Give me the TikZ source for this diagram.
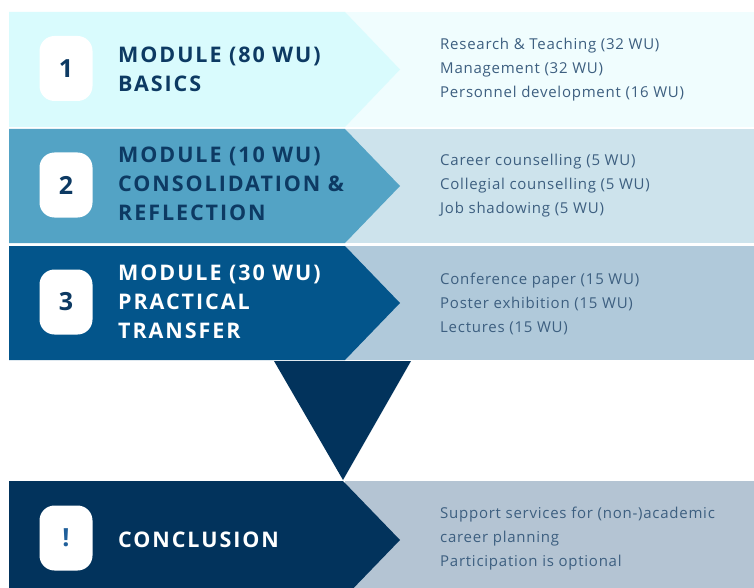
\documentclass[tikz,border=0pt]{standalone}
\usepackage{fontspec}
\setmainfont{Open Sans}
\newfontfamily\headfont[LetterSpace=9]{Open Sans}
\newfontfamily\listfont[LetterSpace=5]{Open Sans}
\usetikzlibrary{positioning}

\definecolor{paleA}{HTML}{D9FBFD}
\definecolor{paleB}{HTML}{F0FDFE}
\definecolor{midA}{HTML}{53A3C5}
\definecolor{midB}{HTML}{CDE3EC}
\definecolor{deepA}{HTML}{03558B}
\definecolor{deepB}{HTML}{B0C9DA}
\definecolor{navyA}{HTML}{02335C}
\definecolor{navyB}{HTML}{B4C4D3}
\definecolor{titleink}{HTML}{0D3A63}
\definecolor{listink}{HTML}{3D5F80}
\definecolor{bangink}{HTML}{1F5F9A}

\begin{document}
\begin{tikzpicture}[x=1pt,y=-1pt,
    badge/.style={fill=white,draw=none,rounded corners=15pt,
                  minimum width=53pt,minimum height=65pt,inner sep=0pt,
                  text=titleink,font=\bfseries\fontsize{25}{25}\selectfont},
    heading/.style={anchor=west,align=left,inner sep=0pt,
                    font=\headfont\bfseries\fontsize{21.5}{29}\selectfont},
    items/.style={anchor=west,align=left,inner sep=0pt,text=listink,
                  font=\listfont\fontsize{15}{24}\selectfont}]

    \useasboundingbox (0,0) rectangle (754,588);
    \fill[white] (0,0) rectangle (754,588);

    % right panels
    \fill[paleB] (345,12) rectangle (754,127);
    \fill[midB]  (345,129) rectangle (754,243);
    \fill[deepB] (345,246) rectangle (754,360);
    \fill[navyB] (345,481) rectangle (754,588);

    % arrow shaped left panels
    \fill[paleA] (9,12) -- (345,12) -- (400,69.5) -- (345,127) -- (9,127) -- cycle;
    \fill[midA]  (9,129) -- (345,129) -- (400,186) -- (345,243) -- (9,243) -- cycle;
    \fill[deepA] (9,246) -- (345,246) -- (400,303) -- (345,360) -- (9,360) -- cycle;
    \fill[navyA] (274,361) -- (411,361) -- (343,480) -- cycle;
    \fill[navyA] (9,481) -- (343,481) -- (400,540) -- (343,599) -- (9,599) -- cycle;

    \node[badge] (b1) at (66,68.5) {1};
    \node[badge] (b2) at (66,185) {2};
    \node[badge] (b3) at (66,302) {3};
    \node[badge,text=bangink] (b4) at (66,538) {!};

    \node[heading,text=titleink] (t1) at (118,69.5) {MODULE (80 WU)\\BASICS};
    \node[heading,text=titleink] (t2) at (118,184) {MODULE (10 WU)\\CONSOLIDATION \&\\REFLECTION};
    \node[heading,text=white] (t3) at (118,302) {MODULE (30 WU)\\PRACTICAL\\TRANSFER};
    \node[heading,text=white] (t4) at (118,540) {CONCLUSION};

    \node[items] (l1) at (440,70) {Research \& Teaching (32 WU)\\Management (32 WU)\\Personnel development (16 WU)};
    \node[items] (l2) at (440,186) {Career counselling (5 WU)\\Collegial counselling (5 WU)\\Job shadowing (5 WU)};
    \node[items] (l3) at (440,304) {Conference paper (15 WU)\\Poster exhibition (15 WU)\\Lectures (15 WU)};
    \node[items] (l4) at (440,539) {Support services for (non-)academic\\career planning\\Participation is optional};
\end{tikzpicture}
\end{document}
